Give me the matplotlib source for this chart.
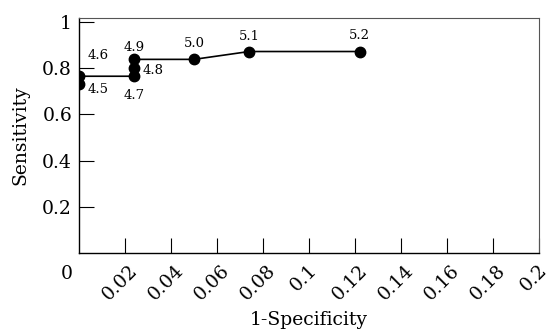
import matplotlib.pyplot as plt
from matplotlib.transforms import ScaledTranslation

# ROC points: cut-off, 1-specificity, sensitivity
cutoffs = ["4.5", "4.6", "4.7", "4.8", "4.9", "5.0", "5.1", "5.2"]
fpr = [0.0, 0.0, 0.024, 0.024, 0.024, 0.050, 0.074, 0.122]
tpr = [0.730, 0.765, 0.765, 0.800, 0.838, 0.838, 0.872, 0.872]

# label offsets in points (dx, dy, ha, va)
offsets = [
    (6.5, 1, "left", "top"),
    (6.5, 10, "left", "bottom"),
    (0, -9, "center", "top"),
    (6, -2, "left", "center"),
    (0, 4, "center", "bottom"),
    (0, 6.5, "center", "bottom"),
    (0, 6, "center", "bottom"),
    (0, 6.5, "center", "bottom"),
]

xticks = [0.02, 0.04, 0.06, 0.08, 0.1, 0.12, 0.14, 0.16, 0.18, 0.2]
xticklabels = ["0.02", "0.04", "0.06", "0.08", "0.1", "0.12", "0.14", "0.16", "0.18", "0.2"]
yticks = [0.2, 0.4, 0.6, 0.8, 1.0]
yticklabels = ["0.2", "0.4", "0.6", "0.8", "1"]

plt.rcParams["font.family"] = "DejaVu Serif"

fig = plt.figure(figsize=(5.5, 3.31), dpi=100)
ax = fig.add_axes([0.1436, 0.2356, 0.8364, 0.71])

ax.plot(fpr, tpr, color="black", lw=1.2, marker="o", markersize=7.5)

for lab, x, y, (dx, dy, ha, va) in zip(cutoffs, fpr, tpr, offsets):
    ax.annotate(lab, (x, y), xytext=(dx, dy), textcoords="offset points",
                ha=ha, va=va, fontsize=9.5)

ax.set_xlim(0, 0.2)
ax.set_ylim(0, 1.017)
ax.set_xticks(xticks)
ax.set_xticklabels(xticklabels, rotation=45, ha="center")
ax.set_yticks(yticks)
ax.set_yticklabels(yticklabels)
ax.tick_params(direction="in", length=11, width=0.8, labelsize=13.5)
ax.tick_params(axis="x", pad=6)
ax.tick_params(axis="y", pad=5)

# nudge rotated labels a little left, as in the original
shift = ScaledTranslation(-5 / 100, 0, fig.dpi_scale_trans)
for lbl in ax.get_xticklabels():
    lbl.set_transform(lbl.get_transform() + shift)

# shared origin label
ax.text(-0.0052, -0.091, "0", transform=ax.transData, ha="center", va="center",
        fontsize=13.5, clip_on=False)

for side in ["top", "right"]:
    ax.spines[side].set_color("#555555")
    ax.spines[side].set_linewidth(0.8)
for side in ["left", "bottom"]:
    ax.spines[side].set_linewidth(1.0)

ax.set_xlabel("1-Specificity", fontsize=13.5, labelpad=5)
ax.set_ylabel("Sensitivity", fontsize=13.5, labelpad=9)

fig.savefig("out.png", dpi=100)
